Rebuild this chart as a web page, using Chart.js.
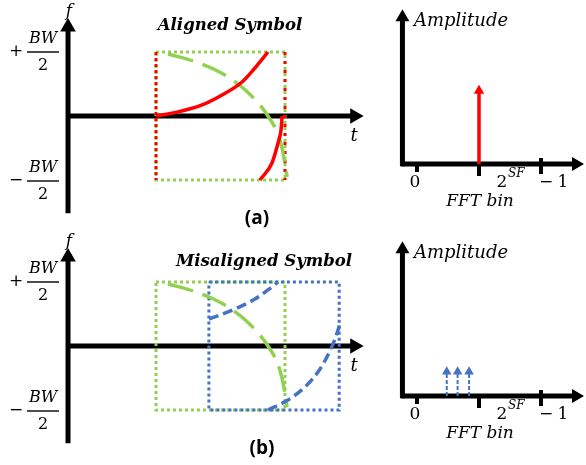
<!DOCTYPE html>
<html>
<head>
<meta charset="utf-8">
<script src="https://cdn.jsdelivr.net/npm/chart.js@4.4.1/dist/chart.umd.min.js"></script>
<style>
  html, body { margin: 0; padding: 0; background: #fff; }
</style>
</head>
<body>
<canvas id="diagram" width="586" height="465"></canvas>
<script>
// time is in symbol lengths, frequency in units of BW/2
const symbolWindow = [0, 1];
const shiftedWindow = [0.41, 1.42];

// red upchirp of the aligned symbol (wraps at +BW/2)
const upTimeA1 = [0, 0.171, 0.357, 0.512, 0.667, 0.767, 0.868];
const upFreqA1 = [0, 0.063, 0.172, 0.328, 0.531, 0.75, 1.0];
const upTimeA2 = [0.806, 0.899, 0.946, 0.969, 0.978];
const upFreqA2 = [-1.0, -0.734, -0.422, -0.219, 0];

// green dashed downchirp (same in both panels)
const downTime = [0.093, 0.302, 0.45, 0.589, 0.69, 0.806, 0.868, 0.938, 0.977, 1.0, 1.016];
const downFreq = [0.969, 0.85, 0.73, 0.57, 0.41, 0.17, 0.0, -0.25, -0.5, -0.75, -0.953];

// blue dashed upchirp of the misaligned symbol
const upTimeB1 = [0.411, 0.612, 0.767, 0.87, 0.946];
const upFreqB1 = [0.422, 0.578, 0.734, 0.88, 1.0];
const upTimeB2 = [0.868, 1.023, 1.155, 1.256, 1.333, 1.388, 1.426];
const upFreqB2 = [-1.0, -0.844, -0.64, -0.406, -0.14, 0.11, 0.344];

// FFT outputs
const binTicks = [0, 2, 4];
const alignedBins = [2];
const alignedPeaks = [0.94];
const misalignedBins = [0.96, 1.31, 1.68];
const misalignedPeaks = [0.31, 0.31, 0.31];

// axis extents
const tAxis = [-0.682, 1.54];
const fAxis = [-1.52, 1.39];
const binAxis = [-0.47, 5.13];
const ampAxis = [0, 1.88];

const RED = "#ff0000";
const GREEN = "#92d050";
const BLUE = "#4472c4";

// scale ranges so that value v lands on pixel p0 + k*v (x) or p0 - k*v (y)
function xRange(p0, k) { return { min: -p0 / k, max: (586 - p0) / k }; }
function yRange(p0, k) { return { min: -(465 - p0) / k, max: p0 / k }; }

function pts(xs, ys) { return xs.map((x, i) => ({ x: x, y: ys[i] })); }

function curve(xId, yId, xs, ys, color, width, dash, order) {
  return {
    data: pts(xs, ys), xAxisID: xId, yAxisID: yId,
    showLine: true, pointRadius: 0, borderColor: color, borderWidth: width,
    borderDash: dash || [], cubicInterpolationMode: "monotone", order: order, clip: false,
  };
}

function straight(xId, yId, xs, ys, color, width, dash, order) {
  const d = curve(xId, yId, xs, ys, color, width, dash, order);
  d.cubicInterpolationMode = "default";
  d.tension = 0;
  return d;
}

function box(xId, yId, win, color, order) {
  return straight(xId, yId, [win[0], win[1], win[1], win[0], win[0]], [1, 1, -1, -1, 1],
    color, 3, [3, 3], order);
}

function arrow(xId, yId, xs, ys, color, width, r, rot, dash, order) {
  const d = straight(xId, yId, xs, ys, color, width, dash, order);
  d.pointRadius = [0, r];
  d.pointStyle = "triangle";
  d.rotation = rot;
  d.pointBackgroundColor = color;
  d.pointBorderWidth = 0;
  return d;
}

const datasets = [];
["fA", "fB"].forEach((f) => {
  datasets.push(arrow("t", f, [tAxis[0], tAxis[0]], fAxis, "#000", 5, 9, 0, null, 10));
  datasets.push(arrow("t", f, [tAxis[0] - 0.015, tAxis[1]], [0, 0], "#000", 5, 9, 90, null, 10));
  datasets.push(box("t", f, symbolWindow, GREEN, 6));
  datasets.push(curve("t", f, downTime, downFreq, GREEN, 3.5, [26, 10], 3));
});
["ampA", "ampB"].forEach((a) => {
  datasets.push(arrow("bin", a, [binAxis[0], binAxis[0]], [-0.03, ampAxis[1]], "#000", 5, 8, 0, null, 10));
  datasets.push(arrow("bin", a, [binAxis[0] - 0.04, binAxis[1]], [0, 0], "#000", 5, 8, 90, null, 10));
});

// panel (a)
datasets.push(straight("t", "fA", [symbolWindow[0], symbolWindow[0]], [1, -1], RED, 3, [3, 3], 5));
datasets.push(straight("t", "fA", [symbolWindow[1], symbolWindow[1]], [1, -1], RED, 3, [3, 6], 5));
datasets.push(curve("t", "fA", upTimeA1, upFreqA1, RED, 3.5, null, 2));
datasets.push(curve("t", "fA", upTimeA2, upFreqA2, RED, 3.5, null, 2));
alignedBins.forEach((b, i) => {
  datasets.push(arrow("bin", "ampA", [b, b], [0, alignedPeaks[i]], RED, 3.5, 6, 0, null, 2));
});

// panel (b)
datasets.push(box("t", "fB", shiftedWindow, BLUE, 5));
datasets.push(curve("t", "fB", upTimeB1, upFreqB1, BLUE, 3.5, [10, 5], 2));
datasets.push(curve("t", "fB", upTimeB2, upFreqB2, BLUE, 3.5, [10, 5], 2));
misalignedBins.forEach((b, i) => {
  datasets.push(arrow("bin", "ampB", [b, b], [0, misalignedPeaks[i]], BLUE, 2, 5.5, 0, [4, 2], 2));
});

const MATH = "'DejaVu Serif', serif";

const labelPlugin = {
  id: "labels",
  beforeDatasetsDraw(chart) {
    const ctx = chart.ctx;
    const s = chart.scales;
    ctx.save();
    ctx.strokeStyle = "#000";
    ctx.lineWidth = 4;
    const tickSpan = [[-2, 8], [0, 12], [-6, 10]];
    ["ampA", "ampB"].forEach((a) => {
      const y0 = s[a].getPixelForValue(0);
      binTicks.forEach((b, i) => {
        const x = s.bin.getPixelForValue(b);
        ctx.beginPath();
        ctx.moveTo(x, y0 + tickSpan[i][0]);
        ctx.lineTo(x, y0 + tickSpan[i][1]);
        ctx.stroke();
      });
    });
    ctx.restore();
  },
  afterDatasetsDraw(chart) {
    const ctx = chart.ctx;
    const s = chart.scales;
    ctx.save();
    ctx.fillStyle = "#000";
    ctx.strokeStyle = "#000";
    ctx.textBaseline = "middle";
    ctx.textAlign = "center";

    const panels = [
      { f: "fA", amp: "ampA", title: "Aligned Symbol", titleX: 230, titleY: 26, cap: "(a)", capX: 257 },
      { f: "fB", amp: "ampB", title: "Misaligned Symbol", titleX: 264, titleY: 262, cap: "(b)", capX: 262 },
    ];
    panels.forEach((p) => {
      const fs = s[p.f];
      const mid = fs.getPixelForValue(0);
      const yTop = fs.getPixelForValue(1);
      const yBot = fs.getPixelForValue(-1) + 1;

      ctx.font = "bold italic 16.5px " + MATH;
      ctx.fillText(p.title, p.titleX, p.titleY);
      ctx.font = "bold 19px 'Open Sans', sans-serif";
      ctx.fillText(p.cap, p.capX, mid + 103);

      ctx.font = "italic 17px " + MATH;
      ctx.textBaseline = "alphabetic";
      ctx.fillText("f", 69, mid - 100);
      ctx.textBaseline = "middle";
      ctx.font = "italic 18px " + MATH;
      ctx.fillText("t", 354, mid + 20);

      // ±BW/2 labels
      [[yTop, "+"], [yBot, "\u2212"]].forEach(([y, sign]) => {
        ctx.font = "17px " + MATH;
        ctx.fillText(sign, 16, y);
        ctx.font = "italic 16px " + MATH;
        ctx.fillText("BW", 43, y - 13);
        ctx.font = "16px " + MATH;
        ctx.fillText("2", 43, y + 14);
        ctx.lineWidth = 1.4;
        ctx.beginPath();
        ctx.moveTo(27, y);
        ctx.lineTo(59, y);
        ctx.stroke();
      });

      // spectrum panel
      const as = s[p.amp];
      const a0 = as.getPixelForValue(0);
      const xEnd = s.bin.getPixelForValue(binTicks[binTicks.length - 1]);
      ctx.textAlign = "left";
      ctx.font = "italic 18px " + MATH;
      ctx.fillText("Amplitude", 414, a0 - 143);
      ctx.textAlign = "center";
      ctx.font = "17px " + MATH;
      ctx.fillText("0", s.bin.getPixelForValue(binTicks[0]) - 2, a0 + 19);
      ctx.fillText("2", xEnd - 39, a0 + 19);
      ctx.fillText("\u2212", xEnd + 5, a0 + 19);
      ctx.fillText("1", xEnd + 22, a0 + 19);
      ctx.font = "italic 12px " + MATH;
      ctx.textAlign = "left";
      ctx.fillText("SF", xEnd - 33, a0 + 10);
      ctx.textAlign = "center";
      ctx.font = "italic 17px " + MATH;
      ctx.fillText("FFT bin", 480, a0 + 38);
    });
    ctx.restore();
  },
};

const hidden = (axis, r) => ({ type: "linear", axis: axis, display: false, min: r.min, max: r.max });

new Chart(document.getElementById("diagram"), {
  type: "scatter",
  data: { datasets: datasets },
  options: {
    responsive: false,
    animation: false,
    events: [],
    layout: { padding: 0, autoPadding: false },
    plugins: { legend: { display: false }, tooltip: { enabled: false } },
    scales: {
      t: hidden("x", xRange(156, 129)),
      bin: hidden("x", xRange(417, 31)),
      fA: hidden("y", yRange(116, 64)),
      fB: hidden("y", yRange(346, 64)),
      ampA: hidden("y", yRange(164, 78)),
      ampB: hidden("y", yRange(396, 78)),
    },
  },
  plugins: [labelPlugin],
});
</script>
</body>
</html>
